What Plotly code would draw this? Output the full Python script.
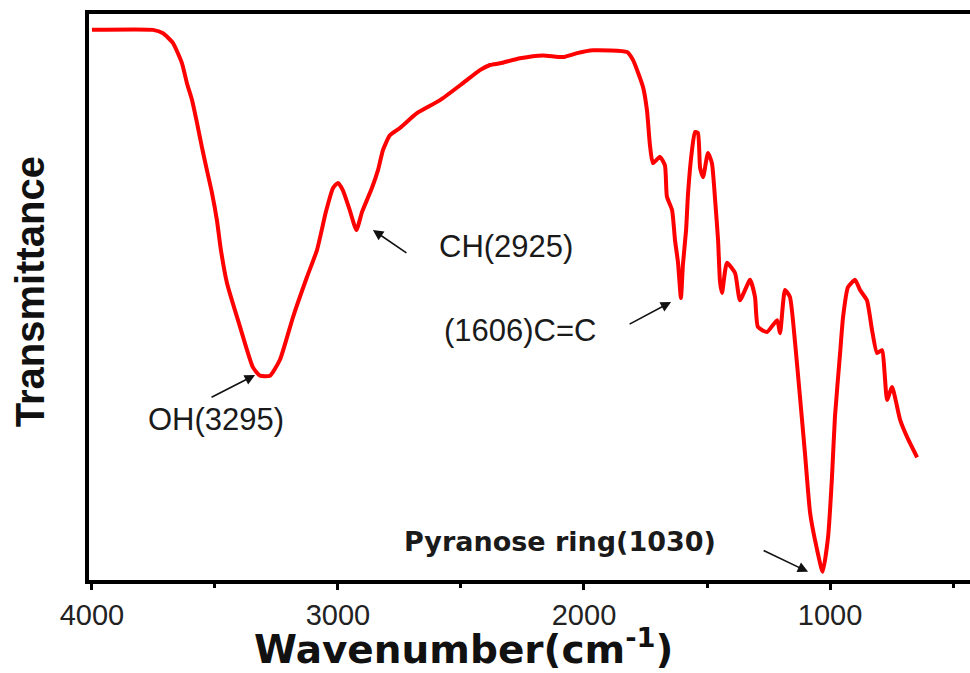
import plotly.graph_objects as go

# FTIR spectrum
wavenumber = [4000, 3752, 3711, 3671, 3634, 3614, 3593, 3573, 3553, 3533, 3512, 3492,
              3476, 3451, 3398, 3346, 3317, 3276, 3236, 3183, 3126, 3085, 3049, 3020,
              3000, 2980, 2955, 2925, 2902, 2862, 2837, 2817, 2789, 2748, 2679, 2585,
              2492, 2423, 2382, 2341, 2260, 2167, 2085, 2028, 1963, 1825, 1801, 1760,
              1744, 1732, 1720, 1691, 1671, 1663, 1642, 1630, 1618, 1606, 1598, 1585,
              1577, 1561, 1549, 1537, 1528, 1516, 1496, 1480, 1467, 1455, 1447, 1439,
              1419, 1386, 1366, 1325, 1305, 1293, 1256, 1215, 1203, 1183, 1163, 1142,
              1122, 1102, 1081, 1061, 1030, 1008, 992, 980, 959, 947, 927, 898,
              878, 850, 829, 809, 789, 768, 748, 715, 687, 646]
transmittance = [97.4, 97.4, 96.8, 95.1, 91.5, 88.0, 85.0, 81.0, 76.7, 72.7, 68.6, 63.8,
                 58.6, 52.7, 45.0, 37.9, 36.4, 36.4, 39.2, 46.7, 53.8, 58.6, 65.3, 69.5,
                 70.4, 69.1, 66.0, 62.1, 65.3, 69.5, 72.7, 76.2, 78.8, 80.1, 82.7, 85.0,
                 88.0, 90.3, 91.2, 91.5, 92.4, 92.9, 92.6, 93.3, 93.8, 93.5, 92.1, 87.3,
                 83.2, 77.1, 73.9, 75.0, 73.5, 68.0, 65.6, 60.3, 56.4, 50.1, 55.9, 62.1,
                 68.6, 76.2, 79.4, 79.2, 73.0, 71.4, 75.7, 73.9, 67.4, 60.3, 52.9, 51.0,
                 56.3, 54.5, 49.7, 53.3, 50.3, 45.0, 44.1, 46.2, 43.9, 51.5, 50.3, 42.2,
                 32.6, 22.8, 12.2, 7.4, 1.8, 7.9, 18.5, 29.1, 40.4, 46.7, 52.0, 53.3,
                 51.5, 49.7, 44.4, 40.4, 40.9, 32.1, 34.4, 28.6, 25.6, 22.0]

x_ticks = [4000, 3000, 2000, 1000]
x_tick_text = ["4000", "3000", "2000", "1000"]
x_minor = [3500, 2500, 1500, 500]

# band labels: text, text centre (wavenumber, T), bold
labels = ["OH(3295)", "CH(2925)", "(1606)C=C", "Pyranose ring(1030)"]
label_wn = [3496, 2317, 2260, 2098]
label_t = [28.6, 59.1, 44.4, 7.2]
label_bold = [False, False, False, True]
# arrows: head (wavenumber, T) and tail offset in pixels
arrow_wn = [3337, 2858, 1646, 1089]
arrow_t = [36.5, 62.1, 49.4, 1.8]
arrow_ax = [-45, 35, -43, -46]
arrow_ay = [23, 24, 23, -22]

fig = go.Figure()
fig.add_trace(go.Scatter(x=wavenumber, y=transmittance, mode="lines",
                         line=dict(color="#ff0000", width=4, shape="spline", smoothing=0.5),
                         showlegend=False))

annotations = []
for t, xw, yt, b in zip(labels, label_wn, label_t, label_bold):
    annotations.append(dict(
        x=xw, y=yt, xref="x", yref="y", text=f"<b>{t}</b>" if b else t,
        showarrow=False, xanchor="center", yanchor="middle",
        font=dict(family="DejaVu Sans" if b else "Liberation Sans",
                  size=27 if b else 31, color="#1a1a1a")))
for xw, yt, ax, ay in zip(arrow_wn, arrow_t, arrow_ax, arrow_ay):
    annotations.append(dict(
        x=xw, y=yt, xref="x", yref="y", text="", showarrow=True,
        ax=ax, ay=ay, arrowhead=2, arrowsize=1.3, arrowwidth=1.6,
        arrowcolor="#111111", standoff=0, startstandoff=0))
annotations.append(dict(
    x=0.425, y=-0.118, xref="paper", yref="paper",
    text="<b>Wavenumber(cm<sup>-1</sup>)</b>", showarrow=False,
    xanchor="center", yanchor="middle",
    font=dict(family="DejaVu Sans", size=39, color="#111111")))
annotations.append(dict(
    x=-0.067, y=0.51, xref="paper", yref="paper",
    text="<b>Transmittance</b>", showarrow=False, textangle=-90,
    xanchor="center", yanchor="middle",
    font=dict(family="Liberation Sans", size=40, color="#111111")))

fig.update_layout(
    width=970, height=673,
    margin=dict(l=89, r=0, t=14, b=93),
    paper_bgcolor="white", plot_bgcolor="white",
    annotations=annotations,
    xaxis=dict(range=[4012, 431], tickvals=x_ticks, ticktext=x_tick_text,
               showgrid=False, zeroline=False, showline=True, linecolor="black",
               linewidth=4, mirror=True, ticks="outside", ticklen=6, tickwidth=3,
               tickcolor="black",
               tickfont=dict(family="Liberation Sans", size=29, color="#222222"),
               minor=dict(tickvals=x_minor, ticks="outside", ticklen=4, tickwidth=3,
                          tickcolor="black", showgrid=False)),
    yaxis=dict(range=[0.35, 100.2], showticklabels=False, ticks="",
               showgrid=False, zeroline=False, showline=True, linecolor="black",
               linewidth=4, mirror=False),
)

fig.write_html("out.html", config={"displayModeBar": False},
               post_script="document.body.style.margin='0';document.body.style.overflow='hidden';")
